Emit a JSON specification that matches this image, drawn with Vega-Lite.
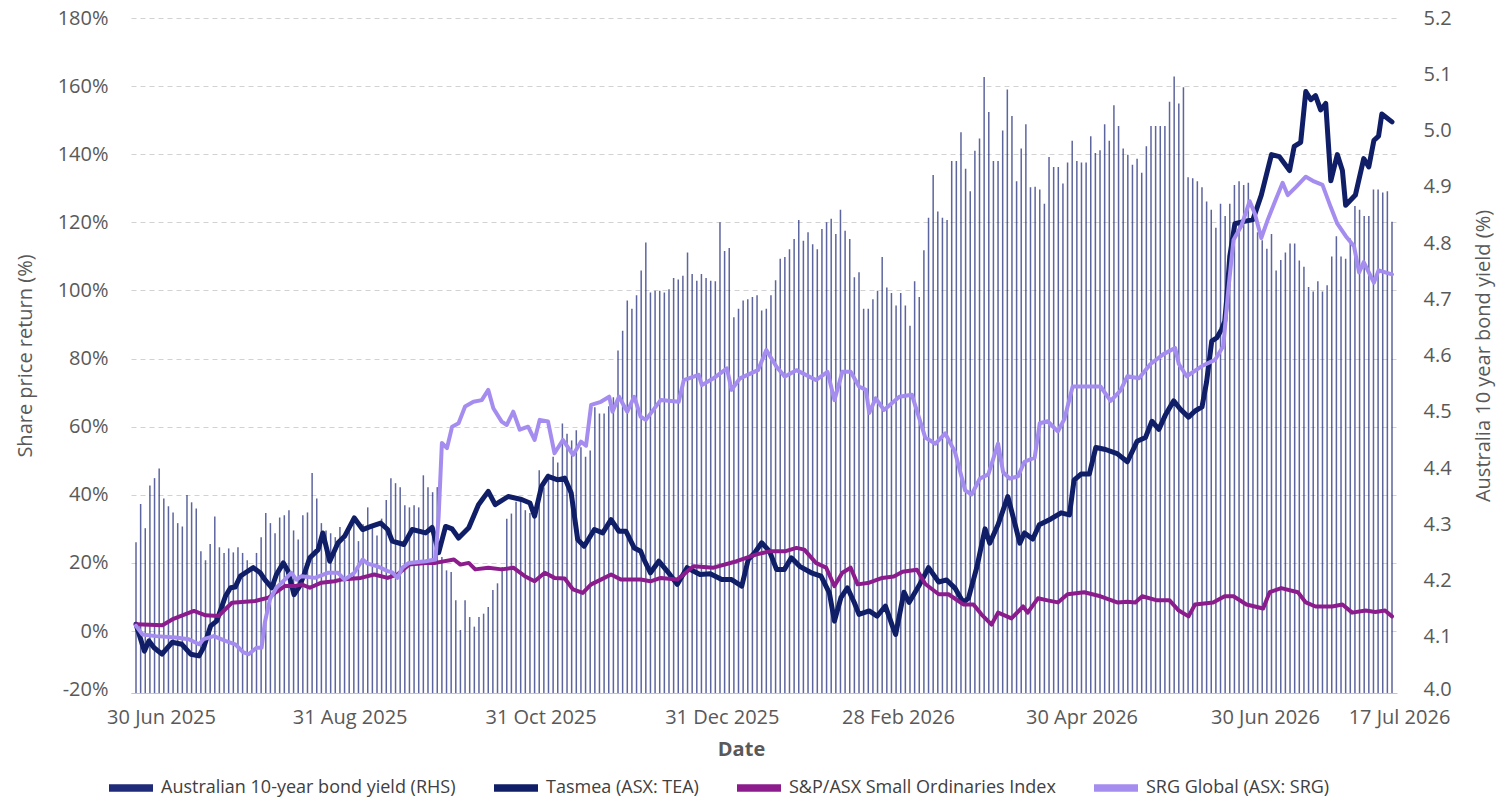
{
  "$schema": "https://vega.github.io/schema/vega-lite/v6.json",
  "width": 1266,
  "height": 675,
  "autosize": {"type": "none"},
  "padding": {"left": 131, "top": 18, "right": 112, "bottom": 117},
  "config": {
    "font": "Open Sans",
    "view": {"stroke": null},
    "axis": {
      "labelFont": "Open Sans",
      "titleFont": "Open Sans",
      "labelFontSize": 20,
      "titleFontSize": 20,
      "labelColor": "#595959",
      "titleColor": "#595959",
      "titleFontWeight": "normal"
    },
    "legend": {"labelFont": "Open Sans"}
  },
  "datasets": {
    "bond": [
      {"i":0,"b":4.268},{"i":1,"b":4.336},{"i":2,"b":4.293},{"i":3,"b":4.369},{"i":4,"b":4.382},{"i":5,"b":4.399},{"i":6,"b":4.346},{"i":7,"b":4.332},{"i":8,"b":4.321},{"i":9,"b":4.302},
      {"i":10,"b":4.296},{"i":11,"b":4.352},{"i":12,"b":4.339},{"i":13,"b":4.328},{"i":14,"b":4.252},{"i":15,"b":4.236},{"i":16,"b":4.265},{"i":17,"b":4.314},{"i":18,"b":4.259},{"i":19,"b":4.249},
      {"i":20,"b":4.257},{"i":21,"b":4.25},{"i":22,"b":4.259},{"i":23,"b":4.249},{"i":24,"b":4.236},{"i":25,"b":4.224},{"i":26,"b":4.249},{"i":27,"b":4.277},{"i":28,"b":4.32},{"i":29,"b":4.302},
      {"i":30,"b":4.284},{"i":31,"b":4.312},{"i":32,"b":4.316},{"i":33,"b":4.325},{"i":34,"b":4.289},{"i":35,"b":4.273},{"i":36,"b":4.316},{"i":37,"b":4.321},{"i":38,"b":4.391},{"i":39,"b":4.346},
      {"i":40,"b":4.302},{"i":41,"b":4.289},{"i":42,"b":4.284},{"i":43,"b":4.277},{"i":44,"b":4.295},{"i":45,"b":4.272},{"i":46,"b":4.29},{"i":47,"b":4.31},{"i":48,"b":4.27},{"i":49,"b":4.3},
      {"i":50,"b":4.33},{"i":51,"b":4.3},{"i":52,"b":4.28},{"i":53,"b":4.31},{"i":54,"b":4.343},{"i":55,"b":4.382},{"i":56,"b":4.373},{"i":57,"b":4.366},{"i":58,"b":4.334},{"i":59,"b":4.33},
      {"i":60,"b":4.334},{"i":61,"b":4.33},{"i":62,"b":4.387},{"i":63,"b":4.366},{"i":64,"b":4.357},{"i":65,"b":4.366},{"i":66,"b":4.242},{"i":67,"b":4.218},{"i":68,"b":4.215},{"i":69,"b":4.165},
      {"i":70,"b":4.112},{"i":71,"b":4.165},{"i":72,"b":4.135},{"i":73,"b":4.118},{"i":74,"b":4.135},{"i":75,"b":4.141},{"i":76,"b":4.153},{"i":77,"b":4.183},{"i":78,"b":4.195},{"i":79,"b":4.224},
      {"i":80,"b":4.31},{"i":81,"b":4.319},{"i":82,"b":4.34},{"i":83,"b":4.343},{"i":84,"b":4.325},{"i":85,"b":4.32},{"i":86,"b":4.313},{"i":87,"b":4.396},{"i":88,"b":4.366},{"i":89,"b":4.39},
      {"i":90,"b":4.42},{"i":91,"b":4.41},{"i":92,"b":4.479},{"i":93,"b":4.461},{"i":94,"b":4.449},{"i":95,"b":4.467},{"i":96,"b":4.437},{"i":97,"b":4.42},{"i":98,"b":4.431},{"i":99,"b":4.508},
      {"i":100,"b":4.497},{"i":101,"b":4.497},{"i":102,"b":4.51},{"i":103,"b":4.526},{"i":104,"b":4.609},{"i":105,"b":4.644},{"i":106,"b":4.698},{"i":107,"b":4.683},{"i":108,"b":4.707},{"i":109,"b":4.751},
      {"i":110,"b":4.801},{"i":111,"b":4.712},{"i":112,"b":4.715},{"i":113,"b":4.715},{"i":114,"b":4.712},{"i":115,"b":4.718},{"i":116,"b":4.738},{"i":117,"b":4.735},{"i":118,"b":4.742},{"i":119,"b":4.783},
      {"i":120,"b":4.745},{"i":121,"b":4.733},{"i":122,"b":4.745},{"i":123,"b":4.738},{"i":124,"b":4.733},{"i":125,"b":4.732},{"i":126,"b":4.837},{"i":127,"b":4.786},{"i":128,"b":4.791},{"i":129,"b":4.668},
      {"i":130,"b":4.683},{"i":131,"b":4.698},{"i":132,"b":4.7},{"i":133,"b":4.704},{"i":134,"b":4.707},{"i":135,"b":4.68},{"i":136,"b":4.683},{"i":137,"b":4.707},{"i":138,"b":4.734},{"i":139,"b":4.772},
      {"i":140,"b":4.775},{"i":141,"b":4.789},{"i":142,"b":4.807},{"i":143,"b":4.841},{"i":144,"b":4.804},{"i":145,"b":4.819},{"i":146,"b":4.798},{"i":147,"b":4.789},{"i":148,"b":4.825},{"i":149,"b":4.837},
      {"i":150,"b":4.843},{"i":151,"b":4.816},{"i":152,"b":4.859},{"i":153,"b":4.822},{"i":154,"b":4.807},{"i":155,"b":4.739},{"i":156,"b":4.748},{"i":157,"b":4.683},{"i":158,"b":4.683},{"i":159,"b":4.7},
      {"i":160,"b":4.715},{"i":161,"b":4.775},{"i":162,"b":4.721},{"i":163,"b":4.711},{"i":164,"b":4.689},{"i":165,"b":4.711},{"i":166,"b":4.689},{"i":167,"b":4.653},{"i":168,"b":4.732},{"i":169,"b":4.704},
      {"i":170,"b":4.787},{"i":171,"b":4.845},{"i":172,"b":4.921},{"i":173,"b":4.856},{"i":174,"b":4.845},{"i":175,"b":4.841},{"i":176,"b":4.946},{"i":177,"b":4.946},{"i":178,"b":4.997},{"i":179,"b":4.932},
      {"i":180,"b":4.892},{"i":181,"b":4.964},{"i":182,"b":4.986},{"i":183,"b":5.095},{"i":184,"b":5.033},{"i":185,"b":4.946},{"i":186,"b":4.946},{"i":187,"b":5.0},{"i":188,"b":5.073},{"i":189,"b":5.026},
      {"i":190,"b":4.91},{"i":191,"b":4.968},{"i":192,"b":5.011},{"i":193,"b":4.899},{"i":194,"b":4.9},{"i":195,"b":4.895},{"i":196,"b":4.87},{"i":197,"b":4.953},{"i":198,"b":4.935},{"i":199,"b":4.935},
      {"i":200,"b":4.906},{"i":201,"b":4.943},{"i":202,"b":4.982},{"i":203,"b":4.946},{"i":204,"b":4.943},{"i":205,"b":4.943},{"i":206,"b":4.99},{"i":207,"b":4.96},{"i":208,"b":4.965},{"i":209,"b":5.011},
      {"i":210,"b":4.982},{"i":211,"b":5.045},{"i":212,"b":5.008},{"i":213,"b":4.968},{"i":214,"b":4.957},{"i":215,"b":4.939},{"i":216,"b":4.95},{"i":217,"b":4.925},{"i":218,"b":4.972},{"i":219,"b":5.008},
      {"i":220,"b":5.008},{"i":221,"b":5.008},{"i":222,"b":5.008},{"i":223,"b":5.051},{"i":224,"b":5.096},{"i":225,"b":5.048},{"i":226,"b":5.077},{"i":227,"b":4.917},{"i":228,"b":4.915},{"i":229,"b":4.91},
      {"i":230,"b":4.899},{"i":231,"b":4.874},{"i":232,"b":4.859},{"i":233,"b":4.827},{"i":234,"b":4.87},{"i":235,"b":4.848},{"i":236,"b":4.87},{"i":237,"b":4.903},{"i":238,"b":4.91},{"i":239,"b":4.903},
      {"i":240,"b":4.907},{"i":241,"b":4.841},{"i":242,"b":4.819},{"i":243,"b":4.805},{"i":244,"b":4.79},{"i":245,"b":4.816},{"i":246,"b":4.751},{"i":247,"b":4.77},{"i":248,"b":4.783},{"i":249,"b":4.799},
      {"i":250,"b":4.799},{"i":251,"b":4.769},{"i":252,"b":4.758},{"i":253,"b":4.722},{"i":254,"b":4.714},{"i":255,"b":4.732},{"i":256,"b":4.714},{"i":257,"b":4.725},{"i":258,"b":4.776},{"i":259,"b":4.812},
      {"i":260,"b":4.776},{"i":261,"b":4.772},{"i":262,"b":4.808},{"i":263,"b":4.866},{"i":264,"b":4.859},{"i":265,"b":4.848},{"i":266,"b":4.848},{"i":267,"b":4.895},{"i":268,"b":4.895},{"i":269,"b":4.89},
      {"i":270,"b":4.892},{"i":271,"b":4.838}
    ],
    "tea": [
      {"i":0,"v":2},{"i":1.8,"v":-5.9},{"i":2.8,"v":-2.9},{"i":3.9,"v":-4.9},{"i":5.6,"v":-6.8},{"i":7.8,"v":-3.3},{"i":9.9,"v":-3.9},{"i":11.8,"v":-6.8},{"i":13.6,"v":-7.3},{"i":14.6,"v":-4.8},
      {"i":16.1,"v":1.5},{"i":17.4,"v":2.9},{"i":19.3,"v":10.2},{"i":20.4,"v":12.7},{"i":21.4,"v":12.9},{"i":22.5,"v":16.1},{"i":23.6,"v":17.1},{"i":25.3,"v":18.6},{"i":26.8,"v":17.1},{"i":27.8,"v":15.1},
      {"i":29.3,"v":12.7},{"i":30.3,"v":16.6},{"i":31.8,"v":20},{"i":32.8,"v":17.6},{"i":34.1,"v":10.7},{"i":35.3,"v":13.2},{"i":36.4,"v":17.1},{"i":37.5,"v":21.5},{"i":39.3,"v":23.9},{"i":40.3,"v":28.8},
      {"i":41.8,"v":20.5},{"i":43.6,"v":25.9},{"i":45,"v":27.8},{"i":47.1,"v":33.2},{"i":48.9,"v":29.8},{"i":50.7,"v":30.7},{"i":52.8,"v":31.7},{"i":54.3,"v":29.8},{"i":55.3,"v":26.4},{"i":57.8,"v":25.4},
      {"i":59.6,"v":29.8},{"i":62.5,"v":28.8},{"i":63.9,"v":30.4},{"i":65.3,"v":23},{"i":66.8,"v":30.7},{"i":68.2,"v":30},{"i":69.6,"v":27.3},{"i":71.8,"v":30.3},{"i":73.9,"v":37.1},{"i":76,"v":41},
      {"i":77.5,"v":37.1},{"i":80.3,"v":39.5},{"i":83.2,"v":38.6},{"i":85,"v":37.6},{"i":86,"v":33.7},{"i":87.5,"v":42.5},{"i":88.9,"v":45.4},{"i":91,"v":44.4},{"i":92.5,"v":44.9},{"i":93.9,"v":40.5},
      {"i":95.3,"v":26.9},{"i":96.7,"v":24.9},{"i":98.9,"v":29.8},{"i":100.7,"v":28.8},{"i":102.5,"v":32.7},{"i":104.2,"v":29.3},{"i":105.7,"v":29.3},{"i":107.5,"v":24.4},{"i":108.9,"v":23.4},{"i":109.6,"v":21},
      {"i":111,"v":17.1},{"i":112.8,"v":20.5},{"i":114.6,"v":17.6},{"i":116.8,"v":13.7},{"i":118.9,"v":18.6},{"i":121.7,"v":16.6},{"i":123.9,"v":16.8},{"i":126.4,"v":15.1},{"i":128.5,"v":15.1},{"i":130.7,"v":13.2},
      {"i":132.1,"v":21},{"i":133.5,"v":23},{"i":135,"v":25.9},{"i":136.7,"v":23.4},{"i":138.2,"v":18.1},{"i":139.9,"v":18.1},{"i":141.4,"v":21.5},{"i":143.2,"v":19},{"i":145.7,"v":17.1},{"i":147.8,"v":16.1},
      {"i":149.6,"v":11.2},{"i":150.7,"v":2.9},{"i":152.1,"v":9.8},{"i":153.5,"v":12.7},{"i":155,"v":8.3},{"i":156,"v":4.9},{"i":158.2,"v":5.9},{"i":159.9,"v":4.4},{"i":161.7,"v":7.3},{"i":163.2,"v":1.5},
      {"i":163.9,"v":-1},{"i":165.7,"v":11.4},{"i":166.8,"v":8.4},{"i":168.9,"v":13.2},{"i":171,"v":18.6},{"i":173.2,"v":14.4},{"i":174.9,"v":15},{"i":176.7,"v":12.6},{"i":178.5,"v":8.4},{"i":179.6,"v":9.6},
      {"i":181.4,"v":18.6},{"i":183.2,"v":30},{"i":184.2,"v":25.8},{"i":186,"v":31.2},{"i":188.1,"v":39.5},{"i":189.6,"v":31.7},{"i":190.7,"v":25.8},{"i":191.7,"v":28.8},{"i":193.5,"v":27},{"i":194.9,"v":31.2},
      {"i":197.4,"v":32.9},{"i":199.6,"v":34.7},{"i":201.4,"v":34.1},{"i":202.4,"v":44.3},{"i":203.9,"v":46.1},{"i":205.7,"v":46.1},{"i":207.1,"v":53.9},{"i":209.2,"v":53.3},{"i":211.7,"v":52.1},{"i":213.9,"v":49.7},
      {"i":216,"v":55.7},{"i":217.8,"v":56.8},{"i":219.2,"v":61.6},{"i":220.7,"v":59.2},{"i":222.1,"v":63.4},{"i":223.9,"v":67.6},{"i":225.3,"v":65.2},{"i":227.1,"v":62.8},{"i":228.5,"v":64.6},{"i":230,"v":65.8},
      {"i":231,"v":73.2},{"i":232.1,"v":85.1},{"i":233.2,"v":86.1},{"i":234.2,"v":88.5},{"i":234.9,"v":90.9},{"i":235.3,"v":96.9},{"i":236,"v":110},{"i":237.1,"v":119.6},{"i":238.9,"v":120.2},{"i":241,"v":120.8},
      {"i":242.8,"v":128},{"i":245,"v":139.9},{"i":246.7,"v":139.3},{"i":248.9,"v":135.2},{"i":249.9,"v":142.3},{"i":251.3,"v":143.5},{"i":252.4,"v":158.4},{"i":253.5,"v":156},{"i":254.5,"v":157.2},{"i":255.6,"v":153},
      {"i":256.7,"v":154.9},{"i":257.8,"v":132.2},{"i":259.2,"v":139.9},{"i":260.3,"v":135.2},{"i":261,"v":125},{"i":263.1,"v":128},{"i":264.9,"v":138.7},{"i":266,"v":136.3},{"i":267.1,"v":144.1},{"i":268.1,"v":145.3},
      {"i":268.8,"v":151.8},{"i":271,"v":149.5}
    ],
    "ords": [
      {"i":0,"v":2},{"i":5.7,"v":1.7},{"i":7.8,"v":3.4},{"i":12.5,"v":5.9},{"i":15,"v":4.6},{"i":17.8,"v":4.4},{"i":20.7,"v":8.3},{"i":25.7,"v":8.8},{"i":28.6,"v":9.8},{"i":30,"v":11.2},
      {"i":32.1,"v":13.2},{"i":34.3,"v":13.2},{"i":35.7,"v":13.7},{"i":37.5,"v":12.7},{"i":40,"v":14.2},{"i":42.8,"v":14.6},{"i":44.3,"v":15.1},{"i":48.5,"v":15.6},{"i":51.4,"v":16.6},{"i":54.3,"v":15.6},
      {"i":56.4,"v":16.6},{"i":58.9,"v":19.5},{"i":62.5,"v":20},{"i":64.6,"v":20},{"i":68.6,"v":21},{"i":70,"v":19.5},{"i":71.8,"v":20},{"i":73.2,"v":18.1},{"i":76,"v":18.6},{"i":78.9,"v":18.1},
      {"i":81.4,"v":18.6},{"i":83.9,"v":16.1},{"i":86,"v":14.6},{"i":88.2,"v":17.1},{"i":90.3,"v":15.6},{"i":92.5,"v":15.4},{"i":94.3,"v":12.2},{"i":96.4,"v":11.2},{"i":98.2,"v":13.7},{"i":100.3,"v":15.1},
      {"i":102.5,"v":16.6},{"i":104.6,"v":15.1},{"i":108.9,"v":15.1},{"i":111,"v":14.6},{"i":113.2,"v":15.6},{"i":116.8,"v":15.1},{"i":120.3,"v":19},{"i":124.6,"v":18.6},{"i":129.6,"v":20.5},{"i":133.9,"v":22.5},
      {"i":136.7,"v":23.4},{"i":140,"v":23.4},{"i":142.5,"v":24.4},{"i":144.2,"v":23.9},{"i":146.7,"v":20},{"i":148.9,"v":18.6},{"i":150.7,"v":13.2},{"i":152.4,"v":17.1},{"i":154.2,"v":18.6},{"i":155.7,"v":13.7},
      {"i":158.2,"v":14.2},{"i":161,"v":15.6},{"i":163.5,"v":16},{"i":165.4,"v":17.4},{"i":168.5,"v":18},{"i":170.3,"v":13.8},{"i":173.2,"v":10.8},{"i":175.3,"v":10.8},{"i":178.5,"v":7.8},{"i":180.7,"v":7.8},
      {"i":182.4,"v":4.9},{"i":184.6,"v":1.9},{"i":186,"v":5.4},{"i":188.9,"v":3.7},{"i":191.4,"v":7.2},{"i":192.4,"v":5.4},{"i":194.6,"v":9.6},{"i":196.7,"v":9},{"i":198.9,"v":8.4},{"i":201,"v":10.8},
      {"i":204.6,"v":11.4},{"i":208.1,"v":10.2},{"i":211.7,"v":8.4},{"i":213.9,"v":8.6},{"i":215.6,"v":8.4},{"i":217.1,"v":10.2},{"i":220.3,"v":9},{"i":223,"v":9},{"i":225,"v":6},{"i":227.1,"v":4.3},
      {"i":228.5,"v":7.8},{"i":232.4,"v":8.4},{"i":234.9,"v":10.2},{"i":236.8,"v":10.2},{"i":239.6,"v":7.8},{"i":243.2,"v":6.6},{"i":244.6,"v":11.4},{"i":247.1,"v":12.6},{"i":250.7,"v":11.4},{"i":252.4,"v":8.4},
      {"i":254.5,"v":7.2},{"i":258.1,"v":7.2},{"i":260.3,"v":7.8},{"i":262.4,"v":5.4},{"i":265.3,"v":6},{"i":267.4,"v":5.6},{"i":269.5,"v":6},{"i":271,"v":4.3}
    ],
    "srg": [
      {"i":0,"v":1.5},{"i":1.4,"v":-1},{"i":4.3,"v":-1.5},{"i":8.6,"v":-1.9},{"i":11.4,"v":-2.4},{"i":13.6,"v":-3.9},{"i":14.6,"v":-2.4},{"i":16.8,"v":-1.5},{"i":19.3,"v":-2.9},{"i":21.4,"v":-3.9},
      {"i":23.2,"v":-6.3},{"i":24.3,"v":-6.8},{"i":26,"v":-4.9},{"i":27.1,"v":-4.9},{"i":27.8,"v":2.5},{"i":28.9,"v":9.3},{"i":30.3,"v":12.7},{"i":32.1,"v":15.1},{"i":33.5,"v":17.1},{"i":34.6,"v":15.1},
      {"i":35.7,"v":16.1},{"i":38.6,"v":15.6},{"i":41.4,"v":17.1},{"i":43.6,"v":17.1},{"i":45,"v":15.1},{"i":47.1,"v":17.1},{"i":48.9,"v":21},{"i":50,"v":19.8},{"i":52.1,"v":19},{"i":54.3,"v":17.6},
      {"i":55.3,"v":17.2},{"i":56.4,"v":15.6},{"i":57.5,"v":18.6},{"i":58.9,"v":20},{"i":62.5,"v":20.5},{"i":64.6,"v":21},{"i":65.3,"v":33.7},{"i":66,"v":55.2},{"i":67.1,"v":53.7},{"i":68.2,"v":60},
      {"i":69.6,"v":61},{"i":71,"v":65.9},{"i":72.8,"v":67.3},{"i":74.6,"v":67.8},{"i":76,"v":70.8},{"i":77.1,"v":65.4},{"i":78.9,"v":61.5},{"i":80,"v":60.5},{"i":81.4,"v":64.4},{"i":82.8,"v":59.1},
      {"i":84.6,"v":60},{"i":86,"v":56.1},{"i":87.1,"v":62},{"i":88.9,"v":61.5},{"i":90.3,"v":52.2},{"i":92.1,"v":56.1},{"i":94.3,"v":51.7},{"i":96,"v":55.6},{"i":97.1,"v":54.4},{"i":98.2,"v":66.4},
      {"i":100.3,"v":67.3},{"i":102.1,"v":68.8},{"i":102.8,"v":64.4},{"i":104.2,"v":68.8},{"i":106,"v":64.4},{"i":107.5,"v":68.8},{"i":108.9,"v":62.9},{"i":110,"v":62},{"i":113.2,"v":67.8},{"i":117.1,"v":67.3},
      {"i":118.2,"v":73.7},{"i":121.4,"v":75.2},{"i":122.1,"v":72.2},{"i":124.6,"v":74.2},{"i":127.5,"v":77.1},{"i":128.5,"v":70.8},{"i":130.3,"v":74.2},{"i":134.2,"v":76.6},{"i":136,"v":82.5},{"i":138.2,"v":77.6},
      {"i":140,"v":74.7},{"i":142.5,"v":76.6},{"i":146.7,"v":73.7},{"i":149.2,"v":76.1},{"i":150.7,"v":67.8},{"i":152.4,"v":76.1},{"i":154.2,"v":76.1},{"i":156,"v":71.8},{"i":157.5,"v":70.8},{"i":158.2,"v":64},
      {"i":159.6,"v":68.3},{"i":161.4,"v":64.9},{"i":164.7,"v":68.8},{"i":167.4,"v":69.4},{"i":168.5,"v":64.6},{"i":170.3,"v":56.8},{"i":172.5,"v":55},{"i":174.6,"v":58},{"i":176.7,"v":52.6},{"i":178.9,"v":41.3},
      {"i":180.3,"v":40.1},{"i":182.1,"v":44.8},{"i":183.9,"v":46},{"i":186,"v":55},{"i":187.1,"v":46.6},{"i":188.5,"v":44.8},{"i":190.3,"v":45.4},{"i":191.7,"v":49.7},{"i":193.9,"v":50.9},{"i":195,"v":61},
      {"i":196.7,"v":61.6},{"i":198.9,"v":58.6},{"i":200.3,"v":62.2},{"i":202.1,"v":71.8},{"i":204.6,"v":71.8},{"i":208.1,"v":71.8},{"i":210.3,"v":67.6},{"i":212.4,"v":70.6},{"i":213.9,"v":74.8},{"i":216.4,"v":74.2},
      {"i":218.9,"v":78.4},{"i":221.7,"v":81.3},{"i":224.2,"v":83.1},{"i":225,"v":78.4},{"i":226.7,"v":74.8},{"i":230,"v":77.8},{"i":232.8,"v":79.6},{"i":234.6,"v":83.7},{"i":235.7,"v":100.5},{"i":236.8,"v":114.8},
      {"i":238.5,"v":119},{"i":240.3,"v":126.2},{"i":241.4,"v":122.6},{"i":242.8,"v":115.4},{"i":244.2,"v":120.8},{"i":245.6,"v":125.6},{"i":247.4,"v":131.6},{"i":248.5,"v":128},{"i":250.3,"v":130.4},{"i":252.4,"v":133.4},
      {"i":253.9,"v":132.2},{"i":256,"v":131},{"i":257.8,"v":124.4},{"i":259.2,"v":119.6},{"i":261,"v":116},{"i":262.8,"v":113},{"i":263.9,"v":105.3},{"i":264.9,"v":108.3},{"i":267.1,"v":102.3},{"i":268.1,"v":105.9},
      {"i":271,"v":104.7}
    ]
  },
  "layer": [
    {
      "data": {"name": "bond"},
      "mark": {"type": "bar", "size": 1.5, "opacity": 0.72},
      "encoding": {
        "x": {
          "field": "i",
          "type": "quantitative",
          "scale": {"domain": [0, 271], "nice": false, "zero": false},
          "axis": {
            "title": "Date",
            "titleFontWeight": "bold",
            "titleX": 610,
            "titlePadding": 12,
            "values": [5.4, 46.1, 87.3, 126.4, 164.4, 204, 243.6, 271],
            "labelExpr": "datum.value < 10 ? '30 Jun 2025' : datum.value < 50 ? '31 Aug 2025' : datum.value < 90 ? '31 Oct 2025' : datum.value < 130 ? '31 Dec 2025' : datum.value < 170 ? '28 Feb 2026' : datum.value < 210 ? '30 Apr 2026' : datum.value < 250 ? '30 Jun 2026' : '17 Jul 2026'",
            "labelOffset": {"condition": {"test": "datum.value > 260", "value": 7}, "value": 0},
            "labelFlush": false,
            "labelOverlap": false,
            "labelPadding": 14,
            "ticks": false,
            "grid": false,
            "domainColor": "#c4c4c4"
          }
        },
        "y": {
          "field": "b",
          "type": "quantitative",
          "scale": {"domain": [4, 5.2], "nice": false, "zero": false},
          "axis": {
            "orient": "right",
            "title": "Australia 10 year bond yield (%)",
            "titleAngle": -90,
            "titleBaseline": "top",
            "titlePadding": 22,
            "values": [4, 4.1, 4.2, 4.3, 4.4, 4.5, 4.6, 4.7, 4.8, 4.9, 5, 5.1, 5.2],
            "format": ".1f",
            "labelPadding": 26,
            "labelOffset": {"condition": {"test": "datum.value < 4.05", "value": -4}, "value": 0},
            "grid": false,
            "domain": false,
            "ticks": false
          }
        },
        "y2": {"datum": 4},
        "color": {
          "datum": "Australian 10-year bond yield (RHS)",
          "type": "nominal",
          "scale": {
            "domain": ["Australian 10-year bond yield (RHS)", "Tasmea (ASX: TEA)", "S&P/ASX Small Ordinaries Index", "SRG Global (ASX: SRG)"],
            "range": ["#1f2a78", "#0f1e66", "#8c1c8c", "#a58df0"]
          },
          "legend": {
            "title": null,
            "orient": "none",
            "legendX": -22,
            "legendY": 748,
            "direction": "horizontal",
            "padding": 0,
            "symbolType": "M-1,-0.17H1V0.17H-1Z",
            "symbolSize": 1936,
            "symbolStrokeWidth": 0,
            "symbolOpacity": 1,
            "labelFontSize": 18,
            "labelColor": "#404040",
            "labelOffset": 8,
            "labelLimit": 0,
            "columnPadding": 38
          }
        }
      }
    },
    {
      "encoding": {
        "x": {"field": "i", "type": "quantitative", "scale": {"domain": [0, 271], "nice": false, "zero": false}},
        "y": {
          "field": "v",
          "type": "quantitative",
          "scale": {"domain": [-18.2, 180], "nice": false, "zero": false},
          "axis": {
            "orient": "left",
            "title": "Share price return (%)",
            "titlePadding": 22,
            "values": [-18.2, 0, 20, 40, 60, 80, 100, 120, 140, 160, 180],
            "labelExpr": "datum.value < -1 ? '-20%' : datum.value + '%'",
            "labelOffset": {"condition": {"test": "datum.value < -1", "value": -4}, "value": 0},
            "labelPadding": 23,
            "grid": true,
            "gridDash": [5, 4],
            "gridColor": "#d2d2d2",
            "domain": false,
            "ticks": false
          }
        }
      },
      "layer": [
        {
          "data": {"name": "tea"},
          "mark": {"type": "line", "strokeWidth": 5, "strokeJoin": "round", "strokeCap": "round"},
          "encoding": {"color": {"datum": "Tasmea (ASX: TEA)", "type": "nominal"}}
        },
        {
          "data": {"name": "ords"},
          "mark": {"type": "line", "strokeWidth": 4, "strokeJoin": "round", "strokeCap": "round"},
          "encoding": {"color": {"datum": "S&P/ASX Small Ordinaries Index", "type": "nominal"}}
        },
        {
          "data": {"name": "srg"},
          "mark": {"type": "line", "strokeWidth": 4, "strokeJoin": "round", "strokeCap": "round"},
          "encoding": {"color": {"datum": "SRG Global (ASX: SRG)", "type": "nominal"}}
        }
      ]
    }
  ],
  "resolve": {"scale": {"y": "independent"}}
}
